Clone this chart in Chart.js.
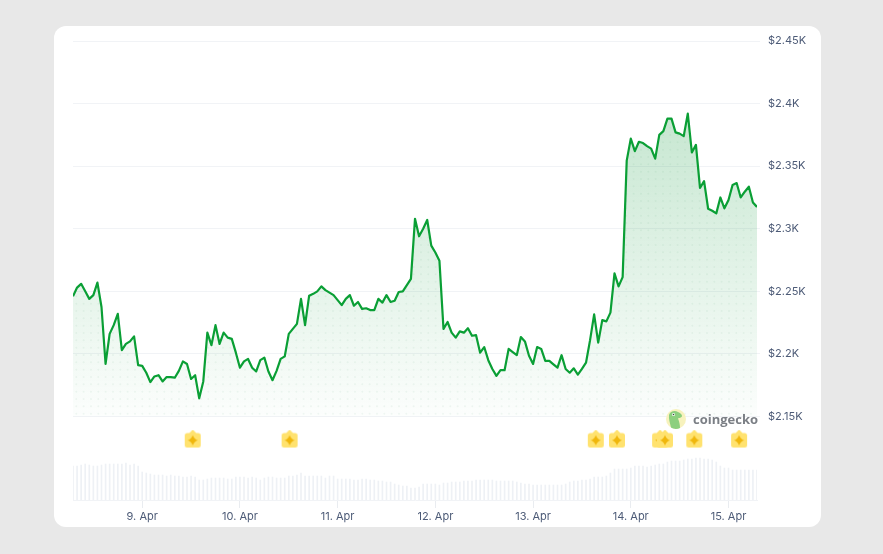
<!DOCTYPE html>
<html>
<head>
<meta charset="utf-8">
<style>
  html, body { margin: 0; padding: 0; background: #e8e8e8; overflow: hidden; }
  #card { position: absolute; left: 54px; top: 26px; width: 767px; height: 501px; background: #fff; border-radius: 12px; }
  #wrap { position: absolute; left: 0; top: 0; width: 883px; height: 554px; }
  #logo { position: absolute; left: 665px; top: 408px; height: 22px; display: flex; align-items: center; }
  #logo span { font: 700 13px "Open Sans", sans-serif; color: #7b7f85; margin-left: 6px; letter-spacing: 0; }
</style>
</head>
<body>
<div id="card"></div>
<div id="wrap"><canvas id="priceChart" width="883" height="554"></canvas></div>
<div id="logo">
  <svg width="22" height="22" viewBox="0 0 22 22">
    <circle cx="11" cy="11" r="10" fill="#f7f2bd"/>
    <path d="M4 7 C5 3 10 2 13 4 C15 5 17 6 17 8 C17 9.500 14 10 13 10.500 C14 13 15 16 15 20 C12 21.500 8 21 6 19.500 C5 15 3.500 11 4 7 Z" fill="#8ccf7e"/>
    <circle cx="8.500" cy="6.500" r="1.500" fill="#fff"/>
    <circle cx="8.500" cy="6.500" r="0.800" fill="#3c4a3c"/>
  </svg>
  <span>coingecko</span>
</div>
<script src="https://cdn.jsdelivr.net/npm/chart.js@4/dist/chart.umd.min.js"></script>
<script>
// hourly prices in USD (first point is 8 Apr, 07:00)
const prices = [
  2246, 2253, 2256, 2250, 2244, 2247, 2257, 2237.5, 2192, 2216, 2223, 2232, 2203,
  2208, 2210, 2214, 2191, 2190.5, 2185, 2177.5, 2182, 2183, 2178, 2181.5, 2181.5, 2181,
  2186.5, 2194, 2192, 2180, 2183, 2164.5, 2178, 2217, 2207, 2223, 2208, 2217, 2213,
  2212, 2201, 2189, 2194, 2196, 2189, 2186, 2195, 2197, 2186, 2179, 2186.5, 2196,
  2198, 2216, 2220, 2224, 2244, 2223, 2246.5, 2248, 2250, 2254, 2251, 2249, 2247,
  2243, 2239, 2244, 2247, 2238.5, 2241.5, 2236, 2236.5, 2235, 2235, 2244, 2241, 2247,
  2241.5, 2242.5, 2249.5, 2250, 2255, 2260, 2308, 2294, 2300, 2307, 2286.5, 2281, 2274.5,
  2220, 2225.5, 2217, 2213, 2218, 2217, 2220.5, 2214.5, 2215, 2201, 2205.5, 2195, 2188,
  2182.5, 2187, 2187, 2204, 2201.5, 2199, 2213.5, 2210, 2198.5, 2192, 2205.5, 2204, 2194.5,
  2194.5, 2191.7, 2189, 2199, 2188, 2185, 2188.5, 2183.5, 2188, 2193, 2211, 2231.6, 2209,
  2227, 2226, 2233, 2264.4, 2254, 2261.4, 2354.4, 2372, 2362, 2369.5, 2368.5, 2366, 2364,
  2356, 2375, 2378, 2388, 2388, 2377, 2376, 2374, 2392, 2361, 2367, 2332.6, 2338, 2316,
  2314.4, 2312.3, 2325, 2316.3, 2323, 2335, 2336.5, 2325, 2329.6, 2333.6, 2321, 2317.4
];

// relative volume per hour, there is no axis for it in the picture
const volumes = [
  34, 34, 35, 36, 35, 34, 34, 35, 36, 36, 36, 36, 36, 37, 35, 36, 34, 28, 27, 26, 25, 25, 25, 24,
  25, 24, 24, 23, 23, 24, 23, 20, 20, 21, 22, 22, 22, 22, 21, 21, 23, 23, 23, 22, 23, 22, 20, 22,
  23, 23, 22, 22, 22, 24, 24, 25, 27, 24, 24, 24, 24, 24, 22, 24, 24, 21, 21, 21, 21, 20, 20, 21,
  21, 20, 20, 19, 19, 18, 18, 16, 15, 14, 14, 12, 12, 13, 16, 16, 16, 16, 15, 17, 17, 18, 18, 18,
  19, 19, 19, 20, 20, 20, 20, 20, 19, 19, 19, 19, 19, 18, 17, 16, 16, 15, 15, 15, 15, 15, 15, 15,
  15, 16, 18, 19, 19, 20, 20, 21, 23, 23, 23, 24, 27, 31, 31, 31, 31, 32, 34, 34, 34, 33, 34, 35,
  36, 36, 38, 39, 39, 39, 40, 41, 41, 42, 42, 41, 41, 40, 38, 34, 32, 32, 30, 30, 30, 30, 30, 30, 30
];

// hours of the star markers below the line
const eventHours = [29.4, 53.2, 128.4, 133.6, 144.2, 145.4, 152.6, 163.6];
const eventPrice = 2132;

const priceTicks = [2150, 2200, 2250, 2300, 2350, 2400, 2450];
const dayHours = [17, 41, 65, 89, 113, 137, 161];
const dayLabels = ['9. Apr', '10. Apr', '11. Apr', '12. Apr', '13. Apr', '14. Apr', '15. Apr'];

const labelColor = '#4d5b77';
const gridColor = '#f1f3f6';

// small yellow pin with a four pointed star
function makePin() {
  const c = document.createElement('canvas');
  c.width = 18;
  c.height = 19;
  const g = c.getContext('2d');
  g.fillStyle = '#ffe26f';
  g.beginPath();
  g.moveTo(9, 0);
  g.lineTo(12.5, 3.5);
  g.lineTo(14.5, 3.5);
  g.quadraticCurveTo(17, 3.5, 17, 6);
  g.lineTo(17, 15.5);
  g.quadraticCurveTo(17, 18, 14.5, 18);
  g.lineTo(3.5, 18);
  g.quadraticCurveTo(1, 18, 1, 15.5);
  g.lineTo(1, 6);
  g.quadraticCurveTo(1, 3.5, 3.5, 3.5);
  g.lineTo(5.5, 3.5);
  g.closePath();
  g.fill();
  g.fillStyle = '#f0b70c';
  g.beginPath();
  g.moveTo(9, 5.5);
  g.quadraticCurveTo(10.2, 9.6, 14, 10.8);
  g.quadraticCurveTo(10.2, 12, 9, 16);
  g.quadraticCurveTo(7.8, 12, 4, 10.8);
  g.quadraticCurveTo(7.8, 9.6, 9, 5.5);
  g.fill();
  return c;
}

// tile for the faint dots in the area under the line
function makeDots(ctx) {
  const c = document.createElement('canvas');
  c.width = 22;
  c.height = 22;
  const g = c.getContext('2d');
  g.fillStyle = 'rgba(0, 110, 50, 0.055)';
  [3, 10.33, 17.66].forEach(x => {
    [3, 10.33, 17.66].forEach(y => {
      g.beginPath();
      g.arc(x, y, 1, 0, Math.PI * 2);
      g.fill();
    });
  });
  return ctx.createPattern(c, 'repeat');
}

function areaGradient(context) {
  const chart = context.chart;
  if (!chart.chartArea) return 'transparent';
  const y = chart.scales.y;
  const g = chart.ctx.createLinearGradient(0, y.getPixelForValue(2392), 0, y.getPixelForValue(2150));
  g.addColorStop(0, 'rgba(10, 150, 55, 0.23)');
  g.addColorStop(1, 'rgba(10, 150, 55, 0.01)');
  return g;
}

const hours = prices.map((p, i) => i);
const canvas = document.getElementById('priceChart');
const ctx = canvas.getContext('2d');

new Chart(ctx, {
  type: 'line',
  data: {
    datasets: [
      {
        // markers
        data: eventHours.map(h => ({ x: h, y: eventPrice })),
        showLine: false,
        pointStyle: makePin(),
        order: 0
      },
      {
        label: 'Price',
        data: hours.map(h => ({ x: h, y: prices[h] })),
        borderColor: '#0a9f35',
        borderWidth: 2.2,
        borderJoinStyle: 'round',
        pointRadius: 0,
        tension: 0,
        fill: { value: 2150 },
        backgroundColor: areaGradient,
        order: 1
      },
      {
        // same line again, only for the dots
        data: hours.map(h => ({ x: h, y: prices[h] })),
        borderWidth: 0,
        pointRadius: 0,
        tension: 0,
        fill: { value: 2150 },
        backgroundColor: makeDots(ctx),
        order: 2
      },
      {
        type: 'bar',
        label: 'Volume',
        data: hours.map(h => ({ x: h, y: volumes[h] })),
        yAxisID: 'yVol',
        backgroundColor: '#eef1f5',
        barThickness: 1,
        order: 3
      }
    ]
  },
  options: {
    responsive: false,
    animation: false,
    layout: { padding: { left: 73, top: 41, right: 0, bottom: 0 } },
    plugins: { legend: { display: false }, tooltip: { enabled: false } },
    scales: {
      x: {
        type: 'linear',
        offset: false,
        min: 0,
        max: 168,
        afterBuildTicks: axis => { axis.ticks = dayHours.map(value => ({ value })); },
        afterFit: axis => { axis.height = 54; },
        grid: { offset: false, drawOnChartArea: false, drawTicks: true, tickLength: 8, color: '#e9ecf0' },
        border: { display: true, color: '#f1f3f6' },
        ticks: {
          autoSkip: false,
          maxRotation: 0,
          padding: 2,
          color: labelColor,
          font: { family: 'Inter', size: 11 },
          callback: value => dayLabels[dayHours.indexOf(value)]
        }
      },
      y: {
        position: 'right',
        min: 2083.3,
        max: 2450,
        afterBuildTicks: axis => { axis.ticks = priceTicks.map(value => ({ value })); },
        afterFit: axis => { axis.width = 126; },
        grid: { color: gridColor, tickLength: 3 },
        border: { display: false },
        ticks: {
          padding: 8,
          color: labelColor,
          font: { family: 'Inter', size: 11 },
          callback: value => '$' + value / 1000 + 'K'
        }
      },
      yVol: {
        display: false,
        min: 0,
        max: 459
      }
    }
  }
});
</script>
</body>
</html>
